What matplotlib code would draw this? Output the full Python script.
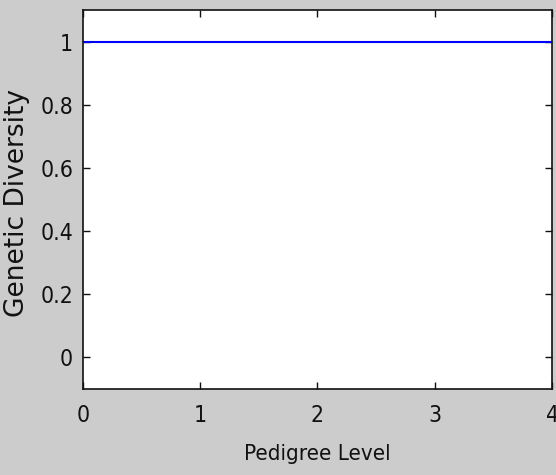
import matplotlib
matplotlib.use("Agg")
import matplotlib.pyplot as plt

pedigree_level = [0, 1, 2, 3, 4]
genetic_diversity = [1, 1, 1, 1, 1]
x_ticks = [0, 1, 2, 3, 4]
y_ticks = [0, 0.2, 0.4, 0.6, 0.8, 1]
y_tick_labels = ["0", "0.2", "0.4", "0.6", "0.8", "1"]

plt.rcParams['font.family'] = ['DejaVu Sans']
plt.rcParams['font.stretch'] = 'condensed'

fig = plt.figure(figsize=(5.56, 4.75), dpi=100, facecolor='#cccccc')
ax = fig.add_axes([0.149, 0.181, 0.844, 0.798])
ax.set_facecolor('white')
ax.plot(pedigree_level, genetic_diversity, color='#0000ff', linewidth=1.5)
ax.set_xlim(0, 4)
ax.set_ylim(-0.1, 1.1)
ax.set_xticks(x_ticks)
ax.set_yticks(y_ticks)
ax.set_yticklabels(y_tick_labels)
ax.tick_params(direction='in', length=5, width=1, top=True, right=True,
               labelsize=16.5, colors='#111111')
ax.tick_params(axis='x', pad=11)
ax.tick_params(axis='y', pad=7)
for s in ax.spines.values():
    s.set_linewidth(1.2)
    s.set_color('#111111')
ax.set_xlabel('Pedigree Level', fontsize=16, labelpad=12, color='#111111')
ax.set_ylabel('Genetic Diversity', fontsize=19, color='#111111',
              fontstretch='normal')
ax.yaxis.set_label_coords(-0.113, 0.49)
fig.savefig('out.png', dpi=100, facecolor=fig.get_facecolor())
